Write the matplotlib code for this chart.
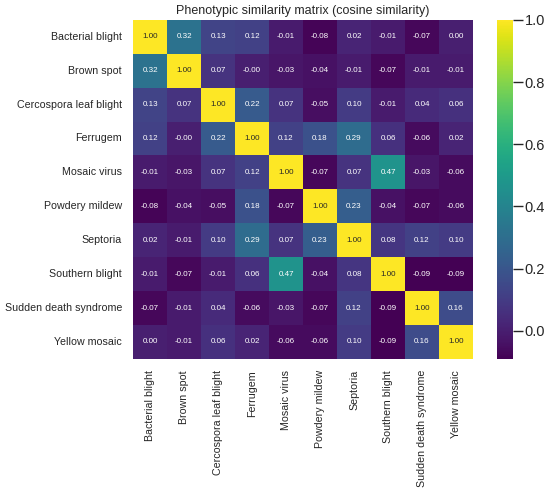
import numpy as np
import matplotlib
matplotlib.use("Agg")
import matplotlib.pyplot as plt
import seaborn as sns

diseases = [
    "Bacterial blight", "Brown spot", "Cercospora leaf blight", "Ferrugem",
    "Mosaic virus", "Powdery mildew", "Septoria", "Southern blight",
    "Sudden death syndrome", "Yellow mosaic",
]

# cosine similarity
row_bacterial = [1.00, 0.32, 0.13, 0.12, -0.01, -0.08, 0.02, -0.01, -0.07, 0.00]
row_brown = [0.32, 1.00, 0.07, -0.00, -0.03, -0.04, -0.01, -0.07, -0.01, -0.01]
row_cercospora = [0.13, 0.07, 1.00, 0.22, 0.07, -0.05, 0.10, -0.01, 0.04, 0.06]
row_ferrugem = [0.12, -0.00, 0.22, 1.00, 0.12, 0.18, 0.29, 0.06, -0.06, 0.02]
row_mosaic = [-0.01, -0.03, 0.07, 0.12, 1.00, -0.07, 0.07, 0.47, -0.03, -0.06]
row_powdery = [-0.08, -0.04, -0.05, 0.18, -0.07, 1.00, 0.23, -0.04, -0.07, -0.06]
row_septoria = [0.02, -0.01, 0.10, 0.29, 0.07, 0.23, 1.00, 0.08, 0.12, 0.10]
row_southern = [-0.01, -0.07, -0.01, 0.06, 0.47, -0.04, 0.08, 1.00, -0.09, -0.09]
row_sudden = [-0.07, -0.01, 0.04, -0.06, -0.03, -0.07, 0.12, -0.09, 1.00, 0.16]
row_yellow = [0.00, -0.01, 0.06, 0.02, -0.06, -0.06, 0.10, -0.09, 0.16, 1.00]

sim = np.array([row_bacterial, row_brown, row_cercospora, row_ferrugem, row_mosaic,
                row_powdery, row_septoria, row_southern, row_sudden, row_yellow])

sns.set_theme(style="white")
plt.rcParams['font.family'] = ['Liberation Sans', 'DejaVu Sans']

fig = plt.figure(figsize=(5.5, 4.95), dpi=100)
ax = fig.add_axes([0.242, 0.275, 0.618, 0.685])
cax = fig.add_axes([0.9036, 0.275, 0.029, 0.685])

sns.heatmap(sim, ax=ax, cbar_ax=cax, cmap="viridis", annot=True, fmt=".2f",
            annot_kws={"fontsize": 5.8}, xticklabels=diseases, yticklabels=diseases)
ax.set_title("Phenotypic similarity matrix (cosine similarity)", fontsize=9, pad=4)
ax.tick_params(axis="both", labelsize=7.7, length=0, pad=8)
ax.set_xticklabels(diseases, rotation=90)
ax.set_yticklabels(diseases, rotation=0)
cax.tick_params(labelsize=10.5, length=7, width=1, pad=1.5, color="#262626")
cax.set_yticks([0.0, 0.2, 0.4, 0.6, 0.8, 1.0])

fig.savefig("out.png", dpi=100)
